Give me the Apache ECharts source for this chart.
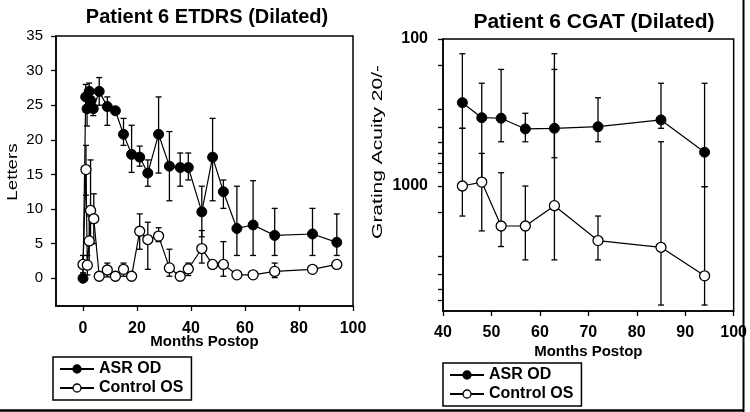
<!DOCTYPE html>
<html>
<head>
<meta charset="utf-8">
<title>Patient 6 ETDRS / CGAT</title>
<style>
  * { margin: 0; padding: 0; box-sizing: border-box; }
  body { background: #ffffff; width: 750px; height: 412px; overflow: hidden; }
  #chart { width: 750px; height: 412px; }
</style>
<script src="https://cdn.jsdelivr.net/npm/echarts@6/dist/echarts.min.js"></script>
</head>
<body>
<div id="chart"></div>
<script>
// ETDRS letters (left panel)
const etdrsAsrMonths = [0, 1, 1.5, 2.3, 2.8, 3.8, 6, 9, 12, 15, 18, 21, 24, 28, 32, 36, 39, 44, 48, 52, 57, 63, 71, 85, 94];
const etdrsAsr = [0, 26.2, 24.5, 27, 25.7, 24.5, 27, 24.8, 24.2, 20.8, 17.9, 17.5, 15.2, 20.8, 16.2, 16, 16, 9.6, 17.5, 12.5, 7.2, 7.7, 6.2, 6.4, 5.2];
const etdrsAsrLow = [null, 24, 22, 25, 24.5, 23.5, 25, 22.1, null, 19.2, 15.3, 16.2, 13.3, 15.2, 11.2, 13.3, 14.2, 6, 11.2, 10.1, 3.3, 3.3, 3.3, 3.3, 3.3];
const etdrsAsrHigh = [null, 28, 26.5, 28.2, 27, 25.5, 29, 26.2, null, 23.1, 22.1, 19.1, 17.1, 26.2, 21.2, 18.1, 18.1, 13.3, 23.1, 14.2, 13.3, 14.1, 10.1, 10.1, 9.3];

const etdrsCtrlMonths = [0, 1.1, 1.6, 2.3, 2.8, 4, 6, 9, 12, 15, 18, 21, 24, 28, 32, 36, 39, 44, 48, 52, 57, 63, 71, 85, 94];
const etdrsCtrl = [2.0, 15.7, 1.9, 5.4, 9.8, 8.6, 0.3, 1.2, 0.3, 1.3, 0.3, 6.8, 5.6, 6.1, 1.5, 0.3, 1.35, 4.3, 2.0, 2.0, 0.5, 0.5, 1.0, 1.3, 2.0];
const etdrsCtrlLow = [0.8, 12, 0.5, 2, 5, 5, null, 0.2, null, 0.3, null, 4.2, 1.3, 5.3, 0.3, null, 0.4, 2.2, null, 0.3, null, 0, 0.1, null, null];
const etdrsCtrlHigh = [3.3, 19.2, 3.3, 9, 17.1, 12.2, null, 2.2, null, 2.2, null, 9.3, 8.1, 7.3, 4.2, null, 2.2, 6.9, null, 5.3, null, 1, 2.2, null, null];

const etdrsXTicks = [0, 20, 40, 60, 80, 100];
const etdrsYTicks = [0, 5, 10, 15, 20, 25, 30, 35];

// CGAT grating acuity 20/- (right panel, log scale, reversed)
const cgatMonths = [44, 48, 52, 57, 63, 72, 85, 94];
const cgatAsr = [271, 343, 346, 409, 405, 395, 355, 589];
const cgatAsrLow = [126, 200, 161, 320, 126, 251, 200, 200];
const cgatAsrHigh = [405, 940, 500, 500, 642, 500, 405, 1010];
const cgatCtrl = [1000, 940, 1870, 1870, 1360, 2350, 2610, 4080];
const cgatCtrlLow = [405, 600, 812, 1000, 161, 1600, 500, 1010];
const cgatCtrlHigh = [1600, 2020, 2580, 3180, 3180, 3180, 6450, 6450];

const cgatYLabels = [100, 1000];
const cgatYTicks = [100, 150, 300, 400, 500, 600, 700, 800, 1000, 1500, 3000, 4000, 5000, 6000];

const FONT = 'Arial, "Liberation Sans", sans-serif';
const BLACK = '#000000';

const legendNames = ['ASR OD', 'Control OS'];

function pairs(xs, ys) {
  return xs.map((x, i) => [x, ys[i]]);
}

// error bar = vertical whisker with caps, drawn under the markers
function renderErrorBar(params, api) {
  const x = api.value(0);
  const lo = api.coord([x, api.value(1)]);
  const hi = api.coord([x, api.value(2)]);
  const half = 3;
  const style = { stroke: BLACK, lineWidth: 1.3 };
  return {
    type: 'group',
    children: [
      { type: 'line', shape: { x1: lo[0], y1: lo[1], x2: hi[0], y2: hi[1] }, style },
      { type: 'line', shape: { x1: lo[0] - half, y1: lo[1], x2: lo[0] + half, y2: lo[1] }, style },
      { type: 'line', shape: { x1: hi[0] - half, y1: hi[1], x2: hi[0] + half, y2: hi[1] }, style }
    ]
  };
}

function errorSeries(name, xs, lows, highs, axisIndex) {
  const data = xs
    .map((x, i) => [x, lows[i], highs[i]])
    .filter((d) => d[1] != null && d[2] != null);
  return {
    type: 'custom',
    name: name,
    xAxisIndex: axisIndex,
    yAxisIndex: axisIndex,
    silent: true,
    z: 1,
    renderItem: renderErrorBar,
    encode: { x: 0, y: [1, 2] },
    data: data
  };
}

function lineSeries(name, data, filled, axisIndex) {
  return {
    type: 'line',
    name: name,
    xAxisIndex: axisIndex,
    yAxisIndex: axisIndex,
    data: data,
    z: 3,
    symbol: 'circle',
    symbolSize: 10,
    showAllSymbol: true,
    lineStyle: { color: BLACK, width: 1.2 },
    itemStyle: filled
      ? { color: BLACK, borderColor: BLACK, borderWidth: 1 }
      : { color: '#ffffff', borderColor: BLACK, borderWidth: 1.3 },
    emphasis: { disabled: true }
  };
}

function legendBox(left, top) {
  return {
    left: left,
    top: top,
    orient: 'vertical',
    data: legendNames,
    selectedMode: false,
    borderColor: BLACK,
    borderWidth: 1.5,
    padding: [4, 8, 4, 6],
    itemGap: 3,
    itemWidth: 34,
    itemHeight: 10,
    itemStyle: { borderWidth: 1.3 },
    textStyle: { fontFamily: FONT, fontSize: 16, fontWeight: 'bold', color: BLACK }
  };
}

const axisLineStyle = { show: true, onZero: false, lineStyle: { color: BLACK, width: 1.5 } };
const tickStyle = { show: true, inside: false, length: 5, lineStyle: { color: BLACK, width: 1.3 } };

const chart = echarts.init(document.getElementById('chart'), null, { renderer: 'canvas' });

chart.setOption({
  animation: false,
  backgroundColor: '#ffffff',
  title: [
    {
      text: 'Patient 6 ETDRS (Dilated)',
      left: 202, top: 2, textAlign: 'center',
      textStyle: { fontFamily: FONT, fontSize: 20, fontWeight: 'bold', color: BLACK }
    },
    {
      text: 'Patient 6 CGAT (Dilated)',
      left: 589, top: 7, textAlign: 'center',
      textStyle: { fontFamily: FONT, fontSize: 21, fontWeight: 'bold', color: BLACK }
    }
  ],
  legend: [legendBox(53, 357), legendBox(443, 363)],
  grid: [
    { left: 56, top: 36, width: 297, height: 270, show: true, borderColor: BLACK, borderWidth: 1.5, backgroundColor: 'transparent' },
    { left: 443, top: 39, width: 291, height: 272, show: true, borderColor: BLACK, borderWidth: 1.5, backgroundColor: 'transparent' }
  ],
  xAxis: [
    {
      type: 'value', gridIndex: 0, min: -10, max: 100,
      name: 'Months Postop', nameLocation: 'middle', nameGap: 28, nameMoveOverlap: false,
      nameTextStyle: { fontFamily: FONT, fontSize: 15, fontWeight: 'bold', color: BLACK },
      axisLine: axisLineStyle,
      axisTick: Object.assign({ customValues: etdrsXTicks }, tickStyle),
      axisLabel: { customValues: etdrsXTicks, margin: 15, fontFamily: FONT, fontSize: 16, fontWeight: 'bold', color: BLACK },
      splitLine: { show: false }
    },
    {
      type: 'value', gridIndex: 1, min: 40, max: 100, interval: 10,
      name: 'Months Postop', nameLocation: 'middle', nameGap: 33, nameMoveOverlap: false,
      nameTextStyle: { fontFamily: FONT, fontSize: 15, fontWeight: 'bold', color: BLACK },
      axisLine: axisLineStyle,
      axisTick: tickStyle,
      axisLabel: { margin: 14, fontFamily: FONT, fontSize: 16, fontWeight: 'bold', color: BLACK },
      splitLine: { show: false }
    }
  ],
  yAxis: [
    {
      type: 'value', gridIndex: 0, min: -4, max: 35,
      axisLine: axisLineStyle,
      axisTick: Object.assign({ customValues: etdrsYTicks }, tickStyle),
      axisLabel: { customValues: etdrsYTicks, margin: 13, fontFamily: FONT, fontSize: 15, color: BLACK },
      splitLine: { show: false }
    },
    {
      type: 'log', logBase: 10, gridIndex: 1, min: 100, max: 7080, inverse: true,
      axisLine: axisLineStyle,
      axisTick: Object.assign({ customValues: cgatYTicks }, tickStyle),
      axisLabel: {
        customValues: cgatYLabels, margin: 15, fontFamily: FONT, fontSize: 16, fontWeight: 'bold', color: BLACK,
        formatter: (v) => String(Math.round(v))
      },
      splitLine: { show: false },
      minorTick: { show: false }
    }
  ],
  graphic: [
    {
      type: 'text', x: 13, y: 172, rotation: Math.PI / 2, scaleX: 1.25,
      style: { text: 'Letters', font: '15px ' + FONT, fill: BLACK, align: 'center', verticalAlign: 'middle' }
    },
    {
      type: 'text', x: 378, y: 152, rotation: Math.PI / 2, scaleX: 1.4,
      style: { text: 'Grating Acuity 20/-', font: '15px ' + FONT, fill: BLACK, align: 'center', verticalAlign: 'middle' }
    },
    // outer figure border (right and bottom edges)
    { type: 'line', shape: { x1: 743.5, y1: 0, x2: 743.5, y2: 412 }, style: { stroke: BLACK, lineWidth: 2 } },
    { type: 'line', shape: { x1: 0, y1: 410.5, x2: 744, y2: 410.5 }, style: { stroke: BLACK, lineWidth: 2.5 } }
  ],
  series: [
    errorSeries('asr-etdrs-err', etdrsAsrMonths, etdrsAsrLow, etdrsAsrHigh, 0),
    errorSeries('ctrl-etdrs-err', etdrsCtrlMonths, etdrsCtrlLow, etdrsCtrlHigh, 0),
    lineSeries('ASR OD', pairs(etdrsAsrMonths, etdrsAsr), true, 0),
    lineSeries('Control OS', pairs(etdrsCtrlMonths, etdrsCtrl), false, 0),
    errorSeries('asr-cgat-err', cgatMonths, cgatAsrLow, cgatAsrHigh, 1),
    errorSeries('ctrl-cgat-err', cgatMonths, cgatCtrlLow, cgatCtrlHigh, 1),
    lineSeries('ASR OD', pairs(cgatMonths, cgatAsr), true, 1),
    lineSeries('Control OS', pairs(cgatMonths, cgatCtrl), false, 1)
  ]
});
</script>
</body>
</html>
